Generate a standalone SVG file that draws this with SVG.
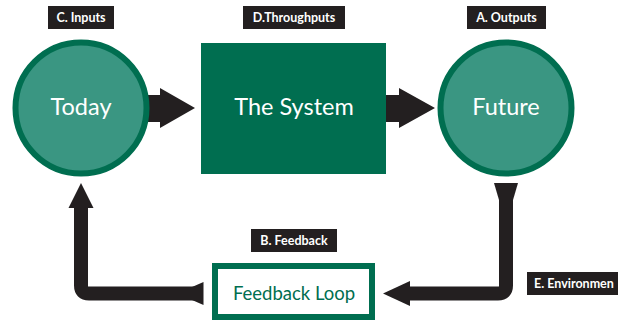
<svg xmlns="http://www.w3.org/2000/svg" width="618" height="321" viewBox="0 0 618 321">
<style>
.lbl rect{fill:#231f20}
.lbl text{fill:#fff;font-family:Lato,"Liberation Sans",sans-serif;font-weight:bold;font-size:12.5px}
.circ{fill:#3a9682;stroke:#006e50;stroke-width:6}
.main{fill:#fff;font-family:Lato,"Open Sans",sans-serif;font-size:23.5px;text-anchor:middle}
.arr{fill:#231f20}
.shaft{fill:none;stroke:#231f20;stroke-width:14}
</style>
<rect width="618" height="321" fill="#fff"/>
<g id="connectors">
<polygon class="arr" points="140,95 160,95 160,88 195,108 160,128 160,122 140,122"/>
<polygon class="arr" points="384,95 399,95 399,88 435,108 399,128 399,122 384,122"/>
<path class="shaft" d="M195 293.5 H89 Q81 293.5 81 285.5 V206"/>
<polygon class="arr" points="81,183 93.5,208 68.5,208"/>
<polygon class="arr" points="192,287 203.5,282 203.5,305 192,300"/>
<path class="shaft" d="M506 198 V285.5 Q506 293.5 498 293.5 H408"/>
<polygon class="arr" points="494,183 518,183 513,200 499,200"/>
<polygon class="arr" points="383,293.5 410,281 410,306"/>
</g>
<g id="today">
<circle class="circ" cx="81" cy="108" r="65.5"/>
<text class="main" x="81" y="114.5">Today</text>
</g>
<g id="system">
<rect x="201" y="43" width="185" height="131" fill="#006e50"/>
<text class="main" x="294" y="114.5">The System</text>
</g>
<g id="future">
<circle class="circ" cx="506" cy="108" r="65.5"/>
<text class="main" x="506" y="114.5">Future</text>
</g>
<g id="feedback-loop">
<rect x="215" y="266" width="157" height="51" fill="#fff" stroke="#006e50" stroke-width="6"/>
<text x="294" y="300" fill="#006e50" font-family="Lato,'Open Sans',sans-serif" font-size="18.5" text-anchor="middle">Feedback Loop</text>
</g>
<g id="label-inputs" class="lbl">
<rect x="48" y="6" width="66" height="23"/>
<text x="81" y="22" text-anchor="middle">C. Inputs</text>
</g>
<g id="label-throughputs" class="lbl">
<rect x="243" y="6" width="102" height="23"/>
<text x="294" y="22" text-anchor="middle">D.Throughputs</text>
</g>
<g id="label-outputs" class="lbl">
<rect x="467" y="6" width="79" height="23"/>
<text x="506.5" y="22" text-anchor="middle">A. Outputs</text>
</g>
<g id="label-feedback" class="lbl">
<rect x="251" y="229" width="86" height="23"/>
<text x="294" y="245" text-anchor="middle">B. Feedback</text>
</g>
<g id="label-environment" class="lbl">
<rect x="527" y="272" width="95" height="23"/>
<text x="534" y="288">E. Environmen</text>
</g>
</svg>
